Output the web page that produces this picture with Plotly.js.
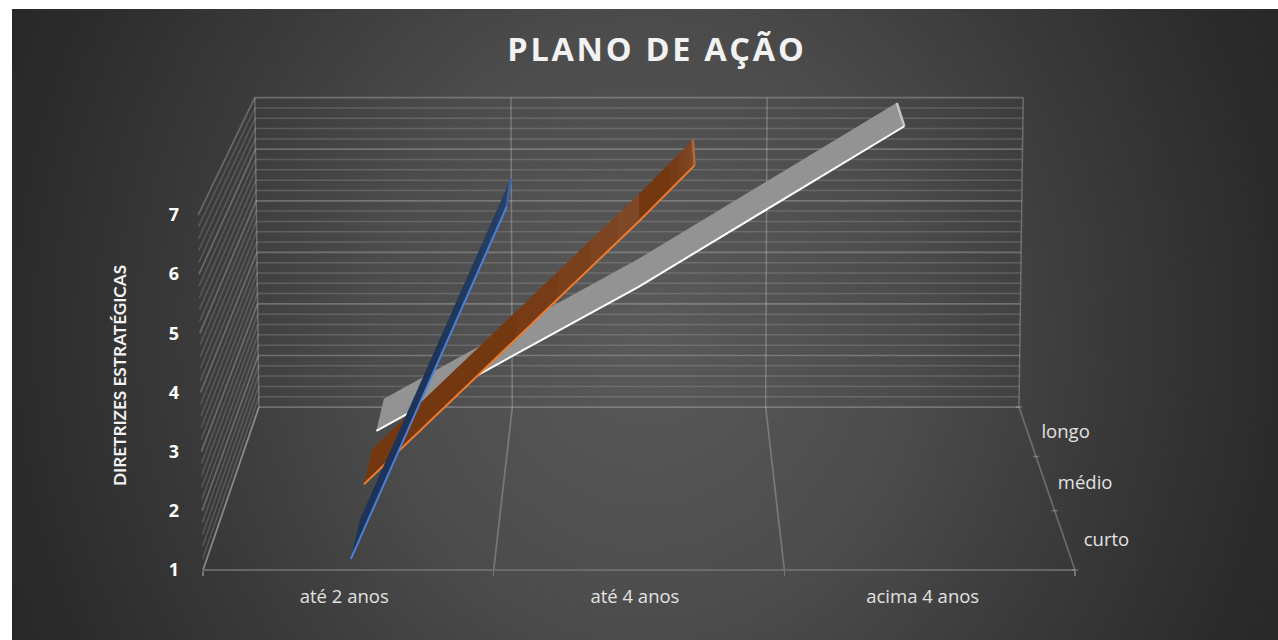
<!DOCTYPE html>
<html><head><meta charset="utf-8">
<script src="https://cdn.plot.ly/plotly-3.0.1.min.js"></script>
<style>
html,body{margin:0;padding:0;background:#fff;width:1278px;height:640px;overflow:hidden}
#bg{position:absolute;left:12px;top:9px;width:1266px;height:631px;
background:radial-gradient(ellipse 720px 800px at 633px 321px,#5a5a5a 0%,#4c4c4c 37%,#3c3c3c 60%,#2b2b2b 88%,#272727 100%)}
#chart{position:absolute;left:0;top:0;width:1278px;height:640px}
.gtitle{letter-spacing:2.7px}
</style></head><body><div id="bg"></div><div id="chart"></div>
<script>
// ---- data ----
const categories = ['até 2 anos', 'até 4 anos', 'acima 4 anos'];
const depthLabels = ['curto', 'médio', 'longo'];
const valueTicks = [1, 2, 3, 4, 5, 6, 7];
const curto = [1, 12, null];
const medio = [1.3, 6, 11];
const longo = [1.3, 4, 7];
const titleText = 'PLANO DE AÇÃO';
const yTitleText = 'DIRETRIZES ESTRATÉGICAS';

// ---- 3-D box settings ----
const zMin = 1, zMax = 7, gridStep = 0.2;
const persp = 0.1473, floorRise = 21.45, flare = 0.011;
const bands = {curto:[0.06,0.28], medio:[0.39,0.61], longo:[0.73,0.95]};
const gridMinor = 'rgba(190,190,190,0.24)', gridMajor = 'rgba(200,200,200,0.34)';

// (category position, depth 0-1, value) -> coordinates on the two axes
function project(u, w, v){
  const s = 1/(1 + persp*w);
  return [1 + (u-1)*s*(1 + flare*(v-zMin)/(zMax-zMin)), 1 + floorRise*(1-s) + (v-zMin)*s];
}
function lineTrace(segs, color, width){
  const x=[], y=[];
  segs.forEach(seg=>{ seg.forEach(p=>{const q=project(p[0],p[1],p[2]);x.push(q[0]);y.push(q[1]);}); x.push(null);y.push(null); });
  return {type:'scatter',mode:'lines',x,y,line:{color,width,simplify:false},showlegend:false,hoverinfo:'skip',connectgaps:false};
}
function polyTrace(pts, color){
  const x=[],y=[];
  pts.forEach(p=>{const q=project(p[0],p[1],p[2]);x.push(q[0]);y.push(q[1]);});
  return {type:'scatter',mode:'lines',x,y,fill:'toself',fillcolor:color,line:{width:0,simplify:false},showlegend:false,hoverinfo:'skip'};
}
const traces = [];
// walls and floor gridlines
const minorBack=[], majorBack=[], minorSide=[], majorSide=[];
const nGrid = Math.round((zMax-zMin)/gridStep);
for(let i=0;i<=nGrid;i++){
  const v = zMin+i*gridStep, maj = i%5===0;
  (maj?majorBack:minorBack).push([[-0.5,1,v],[2.5,1,v]]);
  (maj?majorSide:minorSide).push([[-0.5,0,v],[-0.5,1,v]]);
}
traces.push(lineTrace(minorBack,gridMinor,1.5), lineTrace(majorBack,gridMajor,1.7));
traces.push(lineTrace(minorSide,gridMinor,1.5), lineTrace(majorSide,gridMajor,1.7));
traces.push(lineTrace([-0.5,0.5,1.5,2.5].map(u=>[[u,1,zMin],[u,1,zMax]]),gridMajor,1.5));
traces.push(lineTrace([-0.5,0.5,1.5,2.5].map(u=>[[u,0,zMin],[u,1,zMin]]),gridMajor,1.7));
traces.push(lineTrace([[[-0.5,0,zMin],[2.5,0,zMin]]],'#757575',1.7));

// depth axis ticks and labels
traces.push(lineTrace([0,1/3,2/3,1].map(w=>[[2.5-0.012,w,zMin],[2.5+0.012,w,zMin]]),gridMajor,1.5));
const dl = depthLabels.map((t,i)=>project(2.5+0.148,[1/6,1/2,5/6][i],zMin-0.035));
traces.push({type:'scatter',mode:'text',x:dl.map(p=>p[0]),y:dl.map(p=>p[1]),text:depthLabels,
  textposition:'middle center',textfont:{family:'Open Sans',size:18.5,color:'#e2e2e2'},showlegend:false,hoverinfo:'skip'});

// series ribbons, clipped at the top of the value axis
function ribbon(vals, band, fill, edge, cap, sheen){
  const p=[];
  for(let i=0;i<vals.length;i++){
    if(vals[i]===null) break;
    if(vals[i]<=zMax){p.push([i,vals[i]]);continue;}
    const a=p[p.length-1], t=(zMax-a[1])/(vals[i]-a[1]);
    p.push([a[0]+t*(i-a[0]),zMax]); break;
  }
  const [w0,w1]=band;
  const outline=p.map(q=>[q[0],w0,q[1]]).concat(p.slice().reverse().map(q=>[q[0],w1,q[1]]));
  traces.push(polyTrace(outline,fill));
  // soft lighter sheen towards the end of each straight stretch
  for(let i=0;i<p.length-1;i++){
    [0.55,0.7,0.82,0.92].forEach(t=>{
      const a=[p[i][0]+t*(p[i+1][0]-p[i][0]),p[i][1]+t*(p[i+1][1]-p[i][1])], b=p[i+1];
      traces.push(polyTrace([[a[0],w0,a[1]],[b[0],w0,b[1]],[b[0],w1,b[1]],[a[0],w1,a[1]]],sheen));
    });
  }
  const last=p[p.length-1];
  traces.push(lineTrace([[[last[0],w0,last[1]],[last[0],w1,last[1]]]],cap,2.5));
  traces.push(lineTrace([p.map(q=>[q[0],w0,q[1]])],edge,2));
}
ribbon(longo,bands.longo,'#939393','#ffffff','#c4c4c4','rgba(150,150,150,0.0)');
ribbon(medio,bands.medio,'#743811','#ee7a2d','#b5673a','rgba(170,140,120,0.06)');
ribbon(curto,bands.curto,'#1d3359','#4c80d8','#3a62a8','rgba(120,150,190,0.04)');

// axis scales: one category = 872/3 px, one value unit = 355/6 px, front floor corner at (203, 570)
const pxX = 872/3, pxY = 355/6, originX = 203, originY = 570;
const plotL = 190, plotR = 1140, plotT = 90, plotB = 600;
const layout = {
  width:1278,height:640,autosize:false,
  paper_bgcolor:'rgba(0,0,0,0)',plot_bgcolor:'rgba(0,0,0,0)',
  margin:{l:plotL,r:1278-plotR,t:plotT,b:640-plotB,pad:0},
  showlegend:false,hovermode:false,
  title:{text:titleText,font:{family:'Open Sans',size:32.5,color:'#f2f2f2',weight:700},x:0.514,xanchor:'center',y:0.922,yanchor:'middle'},
  xaxis:{range:[-0.5+(plotL-originX)/pxX,-0.5+(plotR-originX)/pxX],anchor:'free',position:(plotB-originY)/(plotB-plotT),
    tickmode:'array',tickvals:[-0.014,0.986,1.976],ticktext:categories,ticks:'',showgrid:false,zeroline:false,showline:false,
    ticklabelstandoff:13,tickfont:{family:'Open Sans',size:18.5,color:'#e2e2e2'},
    minor:{tickmode:'array',tickvals:[-0.5,0.5,1.5,2.5],ticks:'outside',ticklen:5,tickcolor:'#757575',tickwidth:1.5,showgrid:false}},
  yaxis:{range:[zMin+(originY-plotB)/pxY,zMin+(originY-plotT)/pxY],tickmode:'array',tickvals:valueTicks,ticks:'',showgrid:false,zeroline:false,showline:false,
    ticklabelstandoff:10,tickfont:{family:'Open Sans',size:18,color:'#ffffff',weight:700}},
  annotations:[{text:yTitleText,xref:'paper',yref:'paper',x:(119-plotL)/(plotR-plotL),y:(plotB-376)/(plotB-plotT),textangle:-90,showarrow:false,
    xanchor:'center',yanchor:'middle',font:{family:'Lato',size:17.2,color:'#f2f2f2',weight:700}}]
};
Plotly.newPlot('chart',traces,layout,{staticPlot:true,displayModeBar:false});
</script></body></html>
